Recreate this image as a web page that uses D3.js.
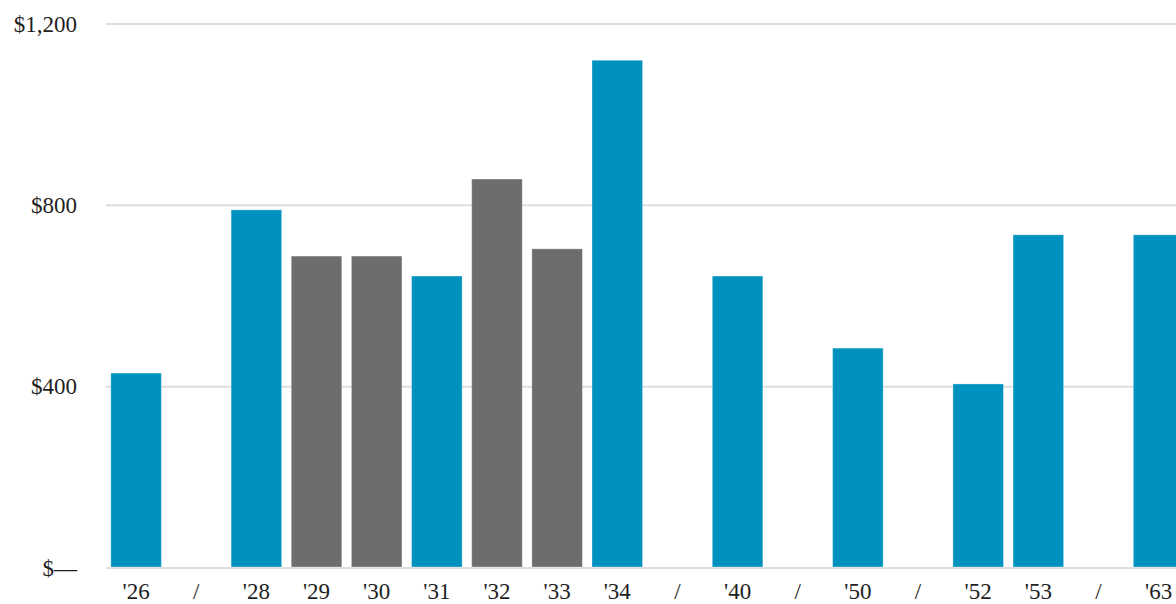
<!DOCTYPE html>
<html>
<head>
<meta charset="utf-8">
<script src="https://cdn.jsdelivr.net/npm/d3@7"></script>
<style>
  body { margin: 0; background: #fff; }
  svg { display: block; }
  text { font-family: "Liberation Serif", "Times New Roman", Times, serif; font-size: 23px; fill: #1e1e1e; }
</style>
</head>
<body>
<svg id="chart"></svg>
<script>
var width = 1176, height = 604;

// categories ("/" marks a gap in the years)
var categories = ["'26", "/", "'28", "'29", "'30", "'31", "'32", "'33", "'34", "/", "'40", "/", "'50", "/", "'52", "'53", "/", "'63"];
var values = [430, null, 790, 688, 688, 644, 858, 704, 1120, null, 644, null, 485, null, 406, 735, null, 735];
var grayYears = ["'29", "'30", "'32", "'33"];
var yTicks = [0, 400, 800, 1200];

var blue = "#0092be", gray = "#6d6d6d";

var svg = d3.select("#chart")
    .attr("width", width)
    .attr("height", height);

var x = d3.scaleBand()
    .domain(d3.range(categories.length))
    .range([106, 106 + 18 * 60.15])
    .paddingInner(0.16)
    .paddingOuter(0.08);

var y = d3.scaleLinear()
    .domain([0, 1200])
    .range([568, 24]);

// gridlines
svg.append("g")
    .selectAll("line")
    .data(yTicks)
    .join("line")
    .attr("x1", 106)
    .attr("x2", width)
    .attr("y1", d => y(d))
    .attr("y2", d => y(d))
    .attr("stroke", "#dedede")
    .attr("stroke-width", 2);

// y labels
var fmt = d3.format(",");
svg.append("g")
    .selectAll("text")
    .data(yTicks)
    .join("text")
    .attr("x", 77)
    .attr("y", d => y(d))
    .attr("dy", "0.33em")
    .attr("text-anchor", "end")
    .text(d => d === 0 ? "$\u2014" : "$" + fmt(d));

// bars
var barData = values.map((v, i) => ({ i: i, cat: categories[i], value: v }))
    .filter(d => d.value != null);

svg.append("g")
    .selectAll("rect")
    .data(barData)
    .join("rect")
    .attr("x", d => x(d.i))
    .attr("y", d => y(d.value))
    .attr("width", x.bandwidth())
    .attr("height", d => y(0) - y(d.value) - 1)
    .attr("fill", d => grayYears.includes(d.cat) ? gray : blue)
    .attr("stroke", "#fff")
    .attr("stroke-opacity", 0.3)
    .attr("stroke-width", 1);

// x labels
svg.append("g")
    .selectAll("text")
    .data(categories)
    .join("text")
    .attr("x", (d, i) => x(i) + x.bandwidth() / 2)
    .attr("y", 599)
    .attr("text-anchor", "middle")
    .text(d => d);
</script>
</body>
</html>
